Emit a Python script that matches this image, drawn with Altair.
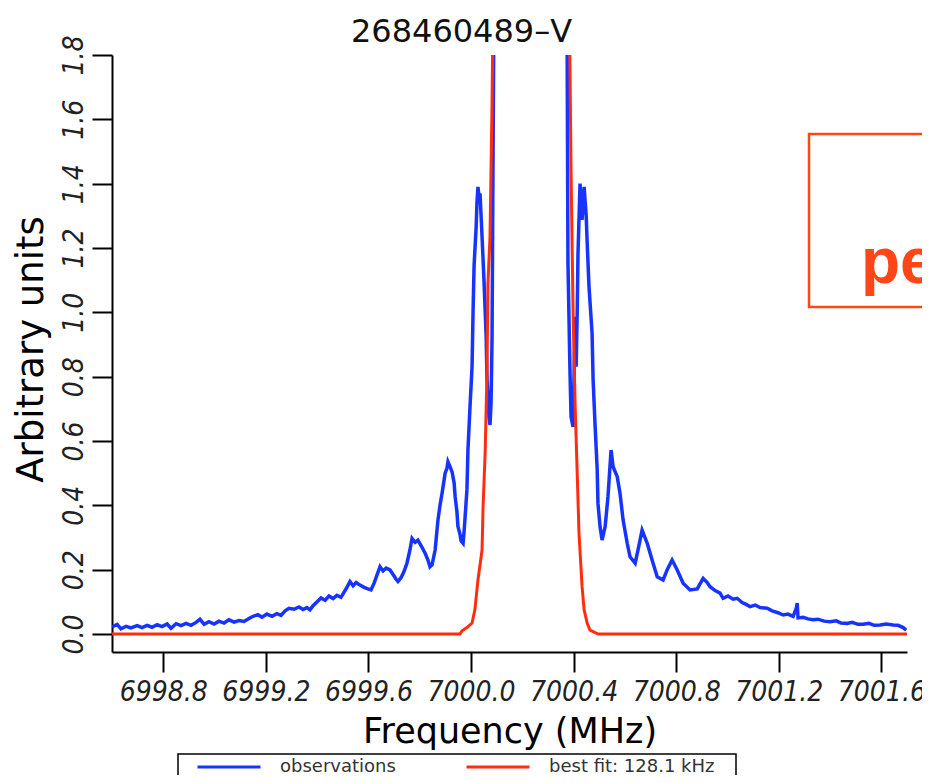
import altair as alt
import pandas as pd

TITLE = "268460489\u2013V"
SERIES = ["observations", "best fit: 128.1 kHz"]
BLUE = "#1733ff"
RED = "#ff2d10"
ORANGE = "#ff4619"

x_ticks = [6998.8, 6999.2, 6999.6, 7000.0, 7000.4, 7000.8, 7001.2, 7001.6]
y_ticks = [0.0, 0.2, 0.4, 0.6, 0.8, 1.0, 1.2, 1.4, 1.6, 1.8]

obs_freq = [
    6998.600, 6998.620, 6998.635, 6998.655, 6998.674, 6998.698, 6998.717, 6998.737,
    6998.756, 6998.776, 6998.795, 6998.815, 6998.830, 6998.850, 6998.869, 6998.889,
    6998.908, 6998.928, 6998.943, 6998.959, 6998.978, 6998.998, 6999.017, 6999.037,
    6999.056, 6999.076, 6999.095, 6999.115, 6999.134, 6999.150, 6999.169, 6999.185,
    6999.204, 6999.224, 6999.243, 6999.259, 6999.275, 6999.290, 6999.310, 6999.329,
    6999.345, 6999.360, 6999.372, 6999.384, 6999.400, 6999.415, 6999.431, 6999.446,
    6999.462, 6999.477, 6999.493, 6999.505, 6999.516, 6999.528, 6999.540, 6999.552,
    6999.567, 6999.583, 6999.598, 6999.610, 6999.622, 6999.634, 6999.645, 6999.657,
    6999.669, 6999.684, 6999.696, 6999.708, 6999.715, 6999.727, 6999.739, 6999.750,
    6999.762, 6999.770, 6999.782, 6999.793, 6999.805, 6999.821, 6999.832, 6999.840,
    6999.848, 6999.860, 6999.871, 6999.879, 6999.887, 6999.899, 6999.906, 6999.910,
    6999.918, 6999.926, 6999.934, 6999.938, 6999.945, 6999.949, 6999.957, 6999.961,
    6999.969, 6999.973, 6999.977, 6999.984, 6999.988, 6999.996, 7000.004, 7000.008,
    7000.012, 7000.020, 7000.023, 7000.027, 7000.031, 7000.035, 7000.043, 7000.051,
    7000.059, 7000.062, 7000.070, 7000.074, 7000.078, 7000.082, 7000.086, 7000.094,
    7000.234,
    7000.371, 7000.378, 7000.386, 7000.390, 7000.398, 7000.406, 7000.410, 7000.414,
    7000.417, 7000.425, 7000.433, 7000.441, 7000.449, 7000.453, 7000.460, 7000.472,
    7000.476, 7000.484, 7000.492, 7000.495, 7000.503, 7000.511, 7000.523, 7000.534,
    7000.546, 7000.554, 7000.570, 7000.581, 7000.593, 7000.609, 7000.620, 7000.640,
    7000.651, 7000.667, 7000.687, 7000.706, 7000.726, 7000.749, 7000.765, 7000.784,
    7000.804, 7000.827, 7000.854, 7000.882, 7000.905, 7000.921, 7000.932, 7000.952,
    7000.971, 7000.983, 7001.002, 7001.022, 7001.038, 7001.057, 7001.073, 7001.088,
    7001.108, 7001.127, 7001.155, 7001.174, 7001.197, 7001.217, 7001.236, 7001.256,
    7001.268, 7001.272, 7001.275, 7001.295, 7001.314, 7001.334, 7001.353, 7001.377,
    7001.400, 7001.424, 7001.443, 7001.467, 7001.486, 7001.509, 7001.529, 7001.552,
    7001.572, 7001.595, 7001.619, 7001.646, 7001.665, 7001.685, 7001.697,
]
obs_val = [
    0.022, 0.030, 0.016, 0.024, 0.019, 0.026, 0.020, 0.027,
    0.021, 0.029, 0.023, 0.031, 0.018, 0.032, 0.026, 0.033,
    0.027, 0.036, 0.046, 0.030, 0.038, 0.031, 0.040, 0.034,
    0.044, 0.037, 0.042, 0.039, 0.048, 0.055, 0.060, 0.052,
    0.062, 0.055, 0.063, 0.058, 0.072, 0.080, 0.077, 0.084,
    0.076, 0.082, 0.075, 0.088, 0.100, 0.112, 0.105, 0.118,
    0.110, 0.120, 0.114, 0.130, 0.145, 0.163, 0.150, 0.160,
    0.152, 0.145, 0.140, 0.137, 0.158, 0.185, 0.209, 0.196,
    0.205, 0.199, 0.185, 0.170, 0.163, 0.175, 0.195, 0.220,
    0.262, 0.297, 0.285, 0.292, 0.275, 0.251, 0.230, 0.209,
    0.215, 0.261, 0.354, 0.400, 0.437, 0.500, 0.515, 0.535,
    0.520, 0.504, 0.470, 0.427, 0.380, 0.334, 0.310, 0.290,
    0.282, 0.320, 0.365, 0.448, 0.572, 0.707, 0.831, 1.007,
    1.147, 1.266, 1.340, 1.390, 1.360, 1.370, 1.235, 1.090,
    0.924, 0.800, 0.675, 0.650, 0.717, 0.924, 1.504, 2.600,
    12.0,
    2.600, 1.153, 0.811, 0.675, 0.644, 0.986, 0.831, 1.000,
    1.180, 1.400, 1.287, 1.390, 1.300, 1.215, 1.080, 0.935,
    0.790, 0.644, 0.510, 0.406, 0.334, 0.292, 0.334, 0.427,
    0.572, 0.520, 0.489, 0.437, 0.354, 0.282, 0.240, 0.220,
    0.261, 0.323, 0.282, 0.230, 0.178, 0.168, 0.200, 0.230,
    0.199, 0.158, 0.137, 0.140, 0.173, 0.160, 0.147, 0.135,
    0.127, 0.111, 0.118, 0.108, 0.111, 0.098, 0.092, 0.085,
    0.090, 0.082, 0.080, 0.072, 0.066, 0.059, 0.062, 0.055,
    0.080, 0.096, 0.050, 0.052, 0.047, 0.044, 0.046, 0.040,
    0.038, 0.041, 0.034, 0.033, 0.036, 0.030, 0.030, 0.033,
    0.027, 0.028, 0.031, 0.028, 0.027, 0.020, 0.012,
]

# best-fit curve
fit_freq = [
    6998.600, 6999.957, 6999.965, 6999.984, 7000.004, 7000.015, 7000.027, 7000.043,
    7000.047, 7000.055, 7000.062, 7000.066, 7000.074, 7000.082, 7000.094, 7000.234,
    7000.375, 7000.390, 7000.398, 7000.406, 7000.414, 7000.421, 7000.433, 7000.441,
    7000.453, 7000.464, 7000.495, 7001.700,
]
fit_val = [
    0.0, 0.0, 0.010, 0.020, 0.034, 0.075, 0.168, 0.261,
    0.396, 0.562, 0.800, 1.090, 1.235, 1.650, 2.600, 9.000,
    2.600, 1.440, 0.998, 0.707, 0.500, 0.313, 0.147, 0.075,
    0.033, 0.012, 0.0, 0.0,
]

obs = pd.DataFrame({"freq": obs_freq, "val": obs_val, "series": SERIES[0]})
fit = pd.DataFrame({"freq": fit_freq, "val": fit_val, "series": SERIES[1]})

LABEL_FONT = "DejaVu Sans Condensed, DejaVu Sans"

x_enc = alt.X(
    "freq:Q",
    scale=alt.Scale(domain=[6998.6, 7001.7], nice=False, zero=False),
    axis=alt.Axis(
        values=x_ticks, format=".1f", title="Frequency (MHz)",
        titleY=90, titleBaseline="alphabetic", titleFontSize=35,
        labelBaseline="alphabetic", labelPadding=28, labelAngle=0,
    ),
)
y_enc = alt.Y(
    "val:Q",
    scale=alt.Scale(domain=[-0.056, 1.8], nice=False, zero=False),
    axis=alt.Axis(
        values=y_ticks, format=".1f", title="Arbitrary units",
        titleX=-70, titleY=294, titleAngle=270, titleAlign="center",
        titleBaseline="alphabetic", titleFontSize=37,
        labelAngle=270, labelAlign="center", labelBaseline="alphabetic",
        labelPadding=10,
    ),
)
color_enc = alt.Color(
    "series:N",
    scale=alt.Scale(domain=SERIES, range=[BLUE, RED]),
    legend=alt.Legend(
        title=None, orient="none", legendX=84, legendY=679,
        direction="horizontal", symbolType="stroke", symbolSize=3969,
        symbolStrokeWidth=3, labelFont="DejaVu Sans", labelFontSize=18,
        labelColor="#333333", labelOffset=18, columnPadding=64,
        padding=0, labelLimit=400,
    ),
)

obs_line = alt.Chart(obs).mark_line(strokeWidth=3.5, clip=True).encode(
    x=x_enc, y=y_enc, color=color_enc
)
fit_line = alt.Chart(fit).mark_line(strokeWidth=3, clip=True).encode(
    x=x_enc, y=y_enc, color=color_enc
)

one = pd.DataFrame({"k": [0]})
legend_box = alt.Chart(one).mark_rect(
    fillOpacity=0, stroke="#000000", strokeWidth=1.5
).encode(x=alt.value(66), x2=alt.value(624), y=alt.value(699), y2=alt.value(760))

note_box = alt.Chart(one).mark_rect(
    fillOpacity=0, stroke=ORANGE, strokeWidth=2.5
).encode(x=alt.value(697), x2=alt.value(860), y=alt.value(79), y2=alt.value(252))

note_text = alt.Chart(one).mark_text(
    text="pe", font="Liberation Sans", fontWeight="bold", fontSize=64,
    color=ORANGE, align="left", baseline="alphabetic",
).encode(x=alt.value(749), y=alt.value(228))

chart = (
    alt.layer(obs_line, fit_line, legend_box, note_box, note_text)
    .properties(
        width=795, height=597,
        title=alt.TitleParams(
            TITLE, font="DejaVu Sans", fontSize=32, fontWeight="normal",
            color="#111111", anchor="middle", frame="group", dx=-48,
            baseline="alphabetic", offset=0, dy=39,
        ),
        autosize=alt.AutoSizeParams(type="none"),
        padding={"left": 104, "top": 47, "right": 15, "bottom": 123},
    )
    .configure_view(strokeWidth=0)
    .configure_axis(
        grid=False, domainColor="#000000", domainWidth=2, tickColor="#000000",
        tickWidth=2, tickSize=20, labelFont=LABEL_FONT, labelFontStyle="italic",
        labelFontSize=28, labelColor="#222222", titleFont="DejaVu Sans",
        titleFontWeight="normal", titleColor="#000000",
    )
)

chart.save("out.html", embed_options={"renderer": "svg", "actions": False})
